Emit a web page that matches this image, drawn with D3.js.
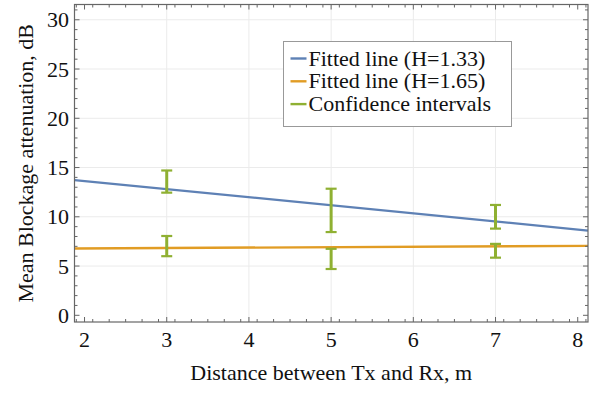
<!DOCTYPE html>
<html>
<head>
<meta charset="utf-8">
<script src="https://cdn.jsdelivr.net/npm/d3@7"></script>
<style>
  body { margin: 0; padding: 0; background: #fff; font-family: 'Liberation Serif', serif; }
</style>
</head>
<body>
<div id="chart"></div>
<script>
// données
const distances = [3, 5, 7];
const ciH133Low = [12.45, 8.45, 8.8];
const ciH133High = [14.7, 12.85, 11.2];
const ciH165Low = [6.0, 4.7, 5.85];
const ciH165High = [8.05, 6.75, 7.25];

// droites ajustées, valeurs aux bords du domaine x
const fitX = [1.878, 8.125];
const fitH133 = [13.73, 8.6];
const fitH165 = [6.78, 7.05];

const xTicks = [2, 3, 4, 5, 6, 7, 8];
const yTicks = [0, 5, 10, 15, 20, 25, 30];
const xGrid = [3, 4, 5, 6, 7];
const yGrid = [5, 10, 15, 20, 25, 30];

const legendLabels = ['Fitted line (H=1.33)', 'Fitted line (H=1.65)', 'Confidence intervals'];
const colors = ['#5E81B5', '#E19C24', '#8FB032'];

const W = 602, H = 393;
const margin = { top: 4.5, right: 14, bottom: 71, left: 74.5 };
const width = W - margin.left - margin.right;
const height = H - margin.top - margin.bottom;

const svg = d3.select('#chart').append('svg')
    .attr('width', W)
    .attr('height', H)
    .style('display', 'block');

const g = svg.append('g')
    .attr('transform', `translate(${margin.left},${margin.top})`);

const x = d3.scaleLinear().domain([1.878, 8.125]).range([0, width]);
const y = d3.scaleLinear().domain([-0.68, 31.55]).range([height, 0]);

// grille
g.append('g').selectAll('line').data(xGrid).join('line')
    .attr('x1', d => x(d)).attr('x2', d => x(d))
    .attr('y1', 0).attr('y2', height)
    .attr('stroke', '#ebebeb').attr('stroke-width', 1);
g.append('g').selectAll('line').data(yGrid).join('line')
    .attr('x1', 0).attr('x2', width)
    .attr('y1', d => y(d)).attr('y2', d => y(d))
    .attr('stroke', '#ebebeb').attr('stroke-width', 1);

// droites ajustées
const line = d3.line().x(d => x(d[0])).y(d => y(d[1]));
g.append('path')
    .datum(fitX.map((v, i) => [v, fitH165[i]]))
    .attr('d', line)
    .attr('fill', 'none')
    .attr('stroke', colors[1])
    .attr('stroke-width', 2.4);
g.append('path')
    .datum(fitX.map((v, i) => [v, fitH133[i]]))
    .attr('d', line)
    .attr('fill', 'none')
    .attr('stroke', colors[0])
    .attr('stroke-width', 2.2);

// intervalles de confiance
function drawCI(lows, highs) {
    const data = distances.map((d, i) => ({ d, lo: lows[i], hi: highs[i] }));
    const eb = g.append('g').selectAll('g').data(data).join('g');
    eb.append('line')
        .attr('x1', d => x(d.d)).attr('x2', d => x(d.d))
        .attr('y1', d => y(d.hi)).attr('y2', d => y(d.lo))
        .attr('stroke', colors[2]).attr('stroke-width', 3);
    eb.selectAll('line.cap').data(d => [{ d: d.d, v: d.hi }, { d: d.d, v: d.lo }]).join('line')
        .attr('class', 'cap')
        .attr('x1', d => x(d.d) - 5.5).attr('x2', d => x(d.d) + 5.5)
        .attr('y1', d => y(d.v)).attr('y2', d => y(d.v))
        .attr('stroke', colors[2]).attr('stroke-width', 2.2);
}
drawCI(ciH133Low, ciH133High);
drawCI(ciH165Low, ciH165High);

// cadre et graduations (vers l'intérieur)
const frameColor = '#666';
const xMinor = d3.range(1.9, 8.11, 0.2).filter(v => Math.abs(v - Math.round(v)) > 0.01);
const yMinor = d3.range(0, 31.5, 1).filter(v => v % 5 !== 0);

g.append('rect')
    .attr('width', width).attr('height', height)
    .attr('fill', 'none').attr('stroke', frameColor).attr('stroke-width', 1.2);

function ticksX(vals, len) {
    g.append('g').selectAll('line').data(vals).join('line')
        .attr('x1', d => x(d)).attr('x2', d => x(d))
        .attr('y1', height).attr('y2', height - len)
        .attr('stroke', frameColor);
    g.append('g').selectAll('line').data(vals).join('line')
        .attr('x1', d => x(d)).attr('x2', d => x(d))
        .attr('y1', 0).attr('y2', len)
        .attr('stroke', frameColor);
}
function ticksY(vals, len) {
    g.append('g').selectAll('line').data(vals).join('line')
        .attr('x1', 0).attr('x2', len)
        .attr('y1', d => y(d)).attr('y2', d => y(d))
        .attr('stroke', frameColor);
    g.append('g').selectAll('line').data(vals).join('line')
        .attr('x1', width).attr('x2', width - len)
        .attr('y1', d => y(d)).attr('y2', d => y(d))
        .attr('stroke', frameColor);
}
ticksX(xTicks, 5);
ticksX(xMinor, 3);
ticksY(yTicks, 5);
ticksY(yMinor, 3);

// étiquettes des graduations
g.append('g').selectAll('text').data(xTicks).join('text')
    .attr('x', d => x(d))
    .attr('y', height + 25)
    .attr('text-anchor', 'middle')
    .attr('font-family', 'Liberation Serif')
    .attr('font-size', 22)
    .attr('fill', '#111')
    .text(d => d);
g.append('g').selectAll('text').data(yTicks).join('text')
    .attr('x', -5.5)
    .attr('y', d => y(d) + 7.5)
    .attr('text-anchor', 'end')
    .attr('font-family', 'Liberation Serif')
    .attr('font-size', 22)
    .attr('fill', '#111')
    .text(d => d);

// titres des axes
g.append('text')
    .attr('x', width / 2)
    .attr('y', height + 58)
    .attr('text-anchor', 'middle')
    .attr('font-family', 'Liberation Serif')
    .attr('font-size', 22)
    .attr('fill', '#111')
    .text('Distance between Tx and Rx, m');
g.append('text')
    .attr('transform', `translate(${-41.5},${height / 2}) rotate(-90)`)
    .attr('text-anchor', 'middle')
    .attr('font-family', 'Liberation Serif')
    .attr('font-size', 22)
    .attr('fill', '#111')
    .text('Mean Blockage attenuation, dB');

// légende
const legend = svg.append('g').attr('transform', 'translate(283.5,41.5)');
legend.append('rect')
    .attr('width', 228).attr('height', 85)
    .attr('fill', '#fff').attr('stroke', '#999').attr('stroke-width', 1);
const items = legend.selectAll('g.item').data(legendLabels).join('g')
    .attr('class', 'item')
    .attr('transform', (d, i) => `translate(0,${17 + i * 22.8})`);
items.append('line')
    .attr('x1', 7).attr('x2', 23)
    .attr('stroke', (d, i) => colors[i]).attr('stroke-width', 2.4);
items.append('text')
    .attr('x', 25)
    .attr('y', 7)
    .attr('font-family', 'Liberation Serif')
    .attr('font-size', 22)
    .attr('fill', '#111')
    .text(d => d);
</script>
</body>
</html>
